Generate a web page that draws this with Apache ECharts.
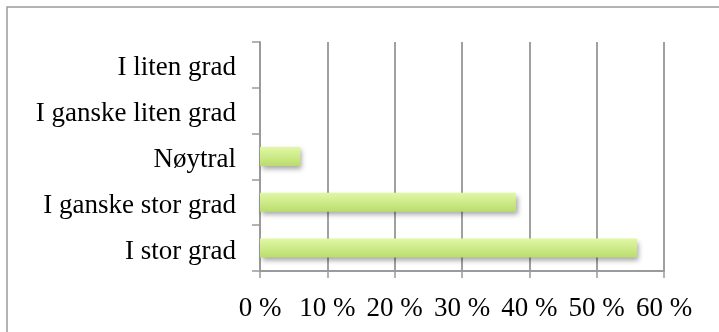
<!DOCTYPE html>
<html>
<head>
<meta charset="utf-8">
<script src="https://cdn.jsdelivr.net/npm/echarts@6/dist/echarts.min.js"></script>
<style>
html, body { margin: 0; padding: 0; background: #fff; }
#chart { width: 719px; height: 332px; }
</style>
</head>
<body>
<div id="chart"></div>
<script>
// Answer categories, bottom to top
const categories = ['I stor grad', 'I ganske stor grad', 'Nøytral', 'I ganske liten grad', 'I liten grad'];
// Share of responses (%)
const shares = [56, 38, 6, 0, 0];
// Value axis ticks (%)
const tickValues = [0, 10, 20, 30, 40, 50, 60];

const FONT = '"Liberation Serif", "DejaVu Serif", serif';
const chart = echarts.init(document.getElementById('chart'), null, { renderer: 'canvas' });

chart.setOption({
  animation: false,
  backgroundColor: '#ffffff',
  graphic: [{
    type: 'rect',
    shape: { x: 7, y: 7, width: 740, height: 360 },
    style: { fill: 'none', stroke: '#9a9a9a', lineWidth: 1.5 },
    silent: true,
    z: -1
  }],
  grid: { left: 260, right: 55, top: 42, bottom: 61, containLabel: false },
  xAxis: {
    type: 'value',
    min: tickValues[0],
    max: tickValues[tickValues.length - 1],
    interval: 10,
    axisLine: { show: true, lineStyle: { color: '#9a9a9a', width: 2 } },
    axisTick: { show: true, length: 7, lineStyle: { color: '#9a9a9a', width: 1.5 } },
    splitLine: { show: true, lineStyle: { color: '#a0a0a0', width: 2 } },
    axisLabel: {
      color: '#000',
      fontFamily: FONT,
      fontSize: 27,
      margin: 24,
      formatter: v => v + ' %'
    }
  },
  yAxis: {
    type: 'category',
    data: categories,
    axisLine: { show: true, lineStyle: { color: '#9a9a9a', width: 2 } },
    axisTick: { show: true, length: 8, lineStyle: { color: '#9a9a9a', width: 1.5 } },
    axisLabel: {
      margin: 24,
      formatter: v => '{c|' + v + '}',
      rich: {
        c: {
          color: '#000',
          fontFamily: FONT,
          fontSize: 27,
          padding: [7, 0, 0, 0]
        }
      }
    }
  },
  series: [{
    type: 'bar',
    data: shares,
    barWidth: 19,
    itemStyle: {
      color: new echarts.graphic.LinearGradient(0, 0, 0, 1, [
        { offset: 0, color: '#e2f7a6' },
        { offset: 1, color: '#b9dd6c' }
      ]),
      shadowColor: 'rgba(0,0,0,0.35)',
      shadowBlur: 5,
      shadowOffsetX: 2,
      shadowOffsetY: 3
    }
  }]
});
</script>
</body>
</html>
